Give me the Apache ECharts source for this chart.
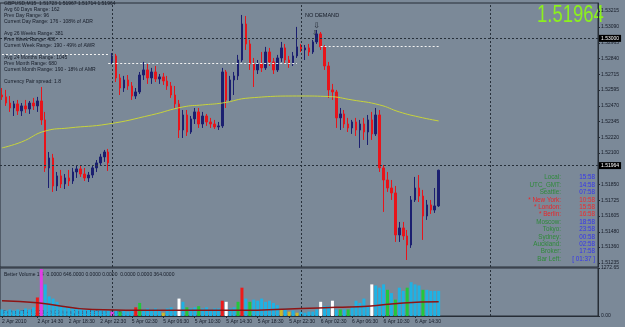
<!DOCTYPE html>
<html>
<head>
<meta charset="utf-8">
<script src="https://cdn.jsdelivr.net/npm/echarts@6/dist/echarts.min.js"></script>
<style>
  html, body { margin: 0; padding: 0; background: #7b8998; }
  #chart { width: 625px; height: 327px; }
</style>
</head>
<body>
<div id="chart"></div>
<script>
// GBPUSD M15 chart (shown as 30 min bars), 2 Apr 10:00 .. 6 Apr 17:30
const opens = [
  1.52555, 1.52540, 1.52492, 1.52453, 1.52485, 1.52430, 1.52469, 1.52445, 1.52492, 1.52469,
  1.52508, 1.52359, 1.51982, 1.52060, 1.51840, 1.51919, 1.51856, 1.51903, 1.51879, 1.51950,
  1.51974, 1.51934, 1.51903, 1.51926, 1.51982, 1.52021, 1.52068, 1.52107,
  1.52807, 1.52862, 1.52689, 1.52610, 1.52673, 1.52626, 1.52547, 1.52579, 1.52712, 1.52752, 1.52689, 1.52736,
  1.52681, 1.52697, 1.52665, 1.52626, 1.52555, 1.52485, 1.52280, 1.52398, 1.52264, 1.52367,
  1.52422, 1.52327, 1.52390, 1.52343, 1.52327, 1.52304, 1.52312, 1.52736, 1.52516, 1.52673,
  1.52705, 1.52830, 1.53113, 1.52956, 1.52799, 1.52752, 1.52799, 1.52768, 1.52893, 1.52815,
  1.52752, 1.52846, 1.52925, 1.52830, 1.52799, 1.52862,
  1.52933, 1.52909, 1.52925, 1.52893, 1.52972, 1.53035, 1.52933, 1.52783, 1.52595, 1.52579,
  1.52375, 1.52406, 1.52327, 1.52296, 1.52343, 1.52280, 1.52327, 1.52264, 1.52359, 1.52249,
  1.52398, 1.51982, 1.51887, 1.51824, 1.51785, 1.51455, 1.51510, 1.51447, 1.51376, 1.51730,
  1.51824, 1.51761, 1.51604, 1.51691, 1.51651, 1.51683
];
const closes = [
  1.52540, 1.52492, 1.52453, 1.52485, 1.52430, 1.52469, 1.52445, 1.52492, 1.52469, 1.52508,
  1.52359, 1.51982, 1.52060, 1.51840, 1.51919, 1.51856, 1.51903, 1.51879, 1.51950, 1.51974,
  1.51934, 1.51903, 1.51926, 1.51982, 1.52021, 1.52068, 1.52107, 1.52021,
  1.52862, 1.52689, 1.52610, 1.52673, 1.52626, 1.52547, 1.52579, 1.52712, 1.52752, 1.52689, 1.52736, 1.52681,
  1.52697, 1.52665, 1.52626, 1.52555, 1.52485, 1.52280, 1.52398, 1.52264, 1.52367, 1.52422,
  1.52327, 1.52390, 1.52343, 1.52327, 1.52304, 1.52312, 1.52736, 1.52516, 1.52673, 1.52705,
  1.52830, 1.53113, 1.52956, 1.52799, 1.52752, 1.52799, 1.52768, 1.52893, 1.52815, 1.52752,
  1.52846, 1.52925, 1.52830, 1.52799, 1.52862, 1.52933,
  1.52909, 1.52925, 1.52893, 1.52972, 1.53035, 1.52933, 1.52783, 1.52595, 1.52579, 1.52375,
  1.52406, 1.52327, 1.52296, 1.52343, 1.52280, 1.52327, 1.52264, 1.52359, 1.52249, 1.52398,
  1.51982, 1.51887, 1.51824, 1.51785, 1.51455, 1.51510, 1.51447, 1.51376, 1.51730, 1.51824,
  1.51761, 1.51604, 1.51691, 1.51651, 1.51683, 1.51964
];
const lows = [
  1.52516, 1.52469, 1.52422, 1.52390, 1.52398, 1.52390, 1.52414, 1.52406, 1.52437, 1.52422,
  1.52320, 1.51950, 1.51824, 1.51793, 1.51801, 1.51824, 1.51816, 1.51840, 1.51856, 1.51903,
  1.51911, 1.51879, 1.51871, 1.51903, 1.51950, 1.51997, 1.52029, 1.51958,
  1.52799, 1.52657, 1.52555, 1.52579, 1.52595, 1.52516, 1.52524, 1.52563, 1.52673, 1.52642, 1.52642, 1.52657,
  1.52642, 1.52634, 1.52595, 1.52532, 1.52453, 1.52217, 1.52217, 1.52233, 1.52249, 1.52327,
  1.52296, 1.52296, 1.52312, 1.52296, 1.52288, 1.52280, 1.52296, 1.52453, 1.52500, 1.52555,
  1.52673, 1.52815, 1.52909, 1.52752, 1.52618, 1.52720, 1.52736, 1.52752, 1.52783, 1.52720,
  1.52736, 1.52815, 1.52799, 1.52768, 1.52783, 1.52846,
  1.52893, 1.52830, 1.52862, 1.52878, 1.52956, 1.52909, 1.52752, 1.52532, 1.52516, 1.52296,
  1.52280, 1.52296, 1.52264, 1.52249, 1.52233, 1.52139, 1.52202, 1.52162, 1.52202, 1.52233,
  1.51950, 1.51636, 1.51793, 1.51730, 1.51400, 1.51400, 1.51416, 1.51258, 1.51353, 1.51714,
  1.51714, 1.51416, 1.51573, 1.51620, 1.51628, 1.51675
];
const highs = [
  1.52610, 1.52595, 1.52547, 1.52508, 1.52516, 1.52492, 1.52516, 1.52508, 1.52532, 1.52540,
  1.52618, 1.52422, 1.52107, 1.52092, 1.51950, 1.51966, 1.51934, 1.51966, 1.51982, 1.51997,
  1.52005, 1.51982, 1.51950, 1.51997, 1.52044, 1.52092, 1.52123, 1.52131,
  1.52885, 1.52878, 1.52720, 1.52705, 1.52712, 1.52657, 1.52610, 1.52736, 1.52815, 1.52799, 1.52768, 1.52783,
  1.52720, 1.52728, 1.52705, 1.52657, 1.52626, 1.52516, 1.52437, 1.52437, 1.52390, 1.52453,
  1.52453, 1.52422, 1.52406, 1.52375, 1.52359, 1.52343, 1.52768, 1.52752, 1.52705, 1.52736,
  1.52870, 1.53184, 1.53176, 1.52988, 1.52846, 1.52830, 1.52893, 1.52933, 1.52925, 1.52846,
  1.52870, 1.52972, 1.52956, 1.52862, 1.52893, 1.53090,
  1.52956, 1.52948, 1.52956, 1.52988, 1.53066, 1.53050, 1.52948, 1.52815, 1.52642, 1.52595,
  1.52453, 1.52437, 1.52375, 1.52359, 1.52375, 1.52359, 1.52375, 1.52398, 1.52422, 1.52453,
  1.52437, 1.52005, 1.51950, 1.51887, 1.51840, 1.51557, 1.51557, 1.51494, 1.51761, 1.51911,
  1.51926, 1.51809, 1.51730, 1.51730, 1.51824, 1.51967
];

// Better Volume: value and bar class (n normal, r climax, w churn, g low churn, m climax churn, y low)
const volumes = [
  173, 145, 173, 145, 173, 145, 202, 173, 231, 491,
  1243, 838, 520, 462, 376, 289, 260, 231, 231, 202,
  202, 173, 173, 173, 145, 173, 145, 145,
  116, 145, 116, 145, 116, 145, 231, 347, 173, 202, 173, 202,
  173, 87, 202, 231, 173, 462, 376, 231, 202, 231,
  260, 202, 231, 173, 202, 202, 405, 376, 202, 231,
  376, 751, 462, 376, 434, 405, 462, 376, 405, 347,
  289, 173, 202, 116, 145, 87,
  116, 87, 116, 116, 173, 376, 260, 260, 405, 173,
  173, 173, 173, 231, 405, 347, 462, 260, 838, 809,
  751, 838, 694, 607, 434, 751, 665, 751, 896, 838,
  809, 694, 694, 665, 665, 665
];
const volType = [
  'n','n','n','n','n','n','n','n','n','r',
  'm','n','n','n','n','n','n','n','n','n',
  'n','n','n','n','n','n','n','n',
  'm','n','g','n','n','n','r','g','n','n','n','n',
  'n','y','n','n','n','w','n','g','n','n',
  'g','n','n','n','n','n','r','w','n','n',
  'g','r','n','g','n','n','n','n','n','n',
  'n','y','n','y','n','y',
  'n','n','n','n','n','w','n','n','w','n',
  'g','n','g','n','n','n','n','n','w','n',
  'n','n','g','n','g','n','n','g','n','n',
  'n','g','n','n','n','n'
];

// moving averages, read at some bars (bar index, value)
const maIdx = [0, 5, 11, 17, 27, 38, 46, 51, 56, 63, 76, 83, 89, 96, 101, 106, 111];
const maVal = [1.52139, 1.52186, 1.52272, 1.52296, 1.52327, 1.52398, 1.52461, 1.52477, 1.52492,
               1.52532, 1.52547, 1.52543, 1.52516, 1.52477, 1.52422, 1.52382, 1.52351];
const volMaIdx = [0, 9, 23, 40, 60, 76, 85, 93, 102, 111];
const volMaVal = [405, 350, 175, 150, 150, 200, 231, 260, 347, 376];

// levels
const bidPrice = 1.51964;
const upperLevel = 1.53000;
const whiteLevels = [
  { from: 0, to: 27, value: 1.52878 },
  { from: 27, to: 75, value: 1.52807 },
  { from: 81, to: 111, value: 1.52940 }
];
const daySeparators = [28, 76, 124];

const priceTicks = [1.51235, 1.51360, 1.51480, 1.51605, 1.51725, 1.51850, 1.52100, 1.52220,
                    1.52345, 1.52470, 1.52595, 1.52715, 1.52840, 1.52965, 1.53090, 1.53215];
const volTicks = [0, 1272.65];
const timeLabels = ['2 Apr 10:00', '2 Apr 14:30', '2 Apr 18:30', '2 Apr 22:30', '5 Apr 02:30',
                    '5 Apr 06:30', '5 Apr 10:30', '5 Apr 14:30', '5 Apr 18:30', '5 Apr 22:30',
                    '6 Apr 02:30', '6 Apr 06:30', '6 Apr 10:30', '6 Apr 14:30'];
const firstLabel = '2 Apr 2010';

const infoLines = [
  'GBPUSD,M15  1.51723 1.51967 1.51714 1.51964',
  'Avg 60 Days Range: 162',
  'Prev Day Range: 96',
  'Current Day Range: 176 - 108% of ADR',
  '',
  'Avg 26 Weeks Range: 381',
  'Prev Week Range: 486',
  'Current Week Range: 190 - 49% of AWR',
  '',
  'Avg 24 Months Range: 1045',
  'Prev Month Range: 680',
  'Current Month Range: 190 - 18% of AMR',
  '',
  'Currency Pair spread: 1.8'
];
const clockNames = ['Local:', 'UTC_GMT:', 'Seattle:', '* New York:', '* London:', '* Berlin:',
                    'Moscow:', 'Tokyo:', 'Sydney:', 'Auckland:', 'Broker:', 'Bar Left:'];
const clockTimes = ['15:58', '14:58', '07:58', '10:58', '15:58', '16:58',
                    '18:58', '23:58', '00:58', '02:58', '17:58', '[ 01:37 ]'];
const volumeTitle = 'Better Volume 1.4  0.0000 646.0000 0.0000 0.0000  0.0000 0.0000 364.0000';
const copyright = 'FxPro MT4, \u00a9 2001-2009 MetaQuotes Software Corp.';

// categories: 30 min bars, weekends skipped, plus empty space on the right
const MONTHS = ['Jan','Feb','Mar','Apr','May','Jun','Jul','Aug','Sep','Oct','Nov','Dec'];
const pad = n => (n < 10 ? '0' : '') + n;
const cats = [];
let t = Date.UTC(2010, 3, 2, 10, 0);
while (cats.length < 152) {
  const d = new Date(t);
  const wd = d.getUTCDay();
  if (wd !== 0 && wd !== 6) {
    cats.push(d.getUTCDate() + ' ' + MONTHS[d.getUTCMonth()] + ' ' + pad(d.getUTCHours()) + ':' + pad(d.getUTCMinutes()));
  }
  t += 30 * 60000;
}

const FONT = 'Liberation Sans';
const TXT = '#161c28';
const FRAME = '#262d36';
const volColors = { n: '#1fb2e4', r: '#ee1a1a', w: '#ffffff', g: '#22c83a', m: '#e23ce6', y: '#cdb82a' };
const darkDash = { color: '#27303a', type: [2, 2], width: 1 };
const whiteDash = { color: '#f2f2f2', type: [2, 2], width: 1 };
const showLabel = (idx, val) => timeLabels.indexOf(val) >= 0;

const candleData = opens.map((o, i) => [o, closes[i], lows[i], highs[i]]);

const levelLabel = txt => ({
  show: true, position: 'end', distance: 1, formatter: txt,
  color: '#ffffff', backgroundColor: '#000000', fontSize: 5, fontFamily: FONT, padding: [1, 2]
});

const candleMarks = [
  { yAxis: upperLevel, lineStyle: darkDash, label: levelLabel(upperLevel.toFixed(5)) },
  { yAxis: bidPrice, lineStyle: darkDash, label: levelLabel(bidPrice.toFixed(5)) }
];
daySeparators.forEach(i => candleMarks.push({ xAxis: cats[i], lineStyle: darkDash, label: { show: false } }));
whiteLevels.forEach(w => candleMarks.push([
  { coord: [cats[w.from], w.value], lineStyle: whiteDash, label: { show: false } },
  { coord: [cats[w.to], w.value], lineStyle: whiteDash }
]));

const graphics = [];
graphics.push({
  type: 'text', left: 4, top: 1, silent: true,
  style: { text: infoLines.join('\n'), fill: TXT, font: '5px "' + FONT + '"', lineHeight: 5.95 }
});
graphics.push({
  type: 'text', x: 537, y: 3, scaleX: 0.77, silent: true,
  style: { text: bidPrice.toFixed(5), fill: '#8cf01e', font: '24px "' + FONT + '"', textVerticalAlign: 'top' }
});
graphics.push({
  type: 'text', x: 305, y: 15, silent: true,
  style: { text: 'NO DEMAND', fill: TXT, font: '5.6px "' + FONT + '"', textVerticalAlign: 'middle' }
});
graphics.push({
  type: 'text', x: 316.5, y: 26, silent: true,
  style: { text: '\u21e9', fill: '#1c222c', font: '8px "DejaVu Sans"', textAlign: 'center', textVerticalAlign: 'middle' }
});
graphics.push({
  type: 'text', x: 315, y: 33.5, silent: true,
  style: { text: '\u21e9', fill: '#1c222c', font: '7px "DejaVu Sans"', textAlign: 'center', textVerticalAlign: 'middle' }
});
clockNames.forEach((name, k) => {
  const hot = name.charAt(0) === '*';
  const y = 177.7 + k * 7.4;
  graphics.push({
    type: 'text', x: 561, y: y, silent: true,
    style: { text: name, fill: hot ? '#e8262a' : '#2f8a3a', font: '6.3px "' + FONT + '"', textAlign: 'right', textVerticalAlign: 'middle' }
  });
  graphics.push({
    type: 'text', x: 595, y: y, silent: true,
    style: { text: clockTimes[k], fill: hot ? '#f02a2a' : '#3434ee', font: '6.3px "' + FONT + '"', textAlign: 'right', textVerticalAlign: 'middle' }
  });
});
graphics.push({
  type: 'text', x: 4, y: 275, silent: true,
  style: { text: volumeTitle, fill: TXT, font: '5px "' + FONT + '"', textVerticalAlign: 'middle' }
});
graphics.push({
  type: 'text', x: 3, y: 313, silent: true,
  style: { text: copyright, fill: '#1c2a66', font: '5px "' + FONT + '"', textVerticalAlign: 'middle' }
});

const chart = echarts.init(document.getElementById('chart'), null, { renderer: 'canvas' });
chart.setOption({
  backgroundColor: '#7b8998',
  animation: false,
  grid: [
    { left: 0, right: 27, top: 3, height: 264, show: true, borderColor: FRAME, borderWidth: 1, outerBoundsMode: 'none' },
    { left: 0, right: 27, top: 268, height: 48, show: true, borderColor: FRAME, borderWidth: 1, outerBoundsMode: 'none' }
  ],
  xAxis: [
    {
      type: 'category', gridIndex: 0, data: cats, boundaryGap: true,
      axisLine: { show: false }, axisTick: { show: false }, axisLabel: { show: false }, splitLine: { show: false }
    },
    {
      type: 'category', gridIndex: 1, data: cats, boundaryGap: true,
      axisLine: { show: true, lineStyle: { color: FRAME } },
      axisTick: { show: true, interval: showLabel, alignWithLabel: true, length: 2, lineStyle: { color: FRAME } },
      axisLabel: {
        interval: showLabel, align: 'left', margin: 3, fontSize: 5, fontFamily: FONT, color: TXT,
        formatter: v => (v === timeLabels[0] ? firstLabel : v)
      },
      splitLine: { show: false }
    }
  ],
  yAxis: [
    {
      type: 'value', gridIndex: 0, position: 'right', min: 1.51203, max: 1.53278,
      splitLine: { show: false },
      axisLine: { show: true, lineStyle: { color: FRAME } },
      axisTick: { show: true, customValues: priceTicks, length: 2, lineStyle: { color: FRAME } },
      axisLabel: { customValues: priceTicks, formatter: v => v.toFixed(5), fontSize: 5, fontFamily: FONT, color: TXT, margin: 3 }
    },
    {
      type: 'value', gridIndex: 1, position: 'right', min: 0, max: 1272.65,
      splitLine: { show: false },
      axisLine: { show: true, lineStyle: { color: FRAME } },
      axisTick: { show: true, customValues: volTicks, length: 2, lineStyle: { color: FRAME } },
      axisLabel: { customValues: volTicks, formatter: v => v.toFixed(2), fontSize: 5, fontFamily: FONT, color: TXT, margin: 3 }
    }
  ],
  series: [
    {
      type: 'candlestick', xAxisIndex: 0, yAxisIndex: 0, data: candleData, barWidth: 2,
      itemStyle: { color: '#1b1f70', borderColor: '#1b1f70', color0: '#e8141a', borderColor0: '#e8141a', borderWidth: 1 },
      markLine: { symbol: 'none', silent: true, animation: false, data: candleMarks }
    },
    {
      type: 'line', xAxisIndex: 0, yAxisIndex: 0, smooth: true, showSymbol: false, silent: true,
      data: maIdx.map((i, k) => [i, maVal[k]]),
      lineStyle: { color: '#c8d43a', width: 1 }
    },
    {
      type: 'bar', xAxisIndex: 1, yAxisIndex: 1, barWidth: 3, silent: true,
      data: volumes.map((v, i) => ({ value: v, itemStyle: { color: volColors[volType[i]] } })),
      markLine: {
        symbol: 'none', silent: true, animation: false,
        data: daySeparators.map(i => ({ xAxis: cats[i], lineStyle: darkDash, label: { show: false } }))
      }
    },
    {
      type: 'line', xAxisIndex: 1, yAxisIndex: 1, smooth: true, showSymbol: false, silent: true,
      data: volMaIdx.map((i, k) => [i, volMaVal[k]]),
      lineStyle: { color: '#8e1414', width: 1.5 }
    }
  ],
  graphic: graphics
});
</script>
</body>
</html>
